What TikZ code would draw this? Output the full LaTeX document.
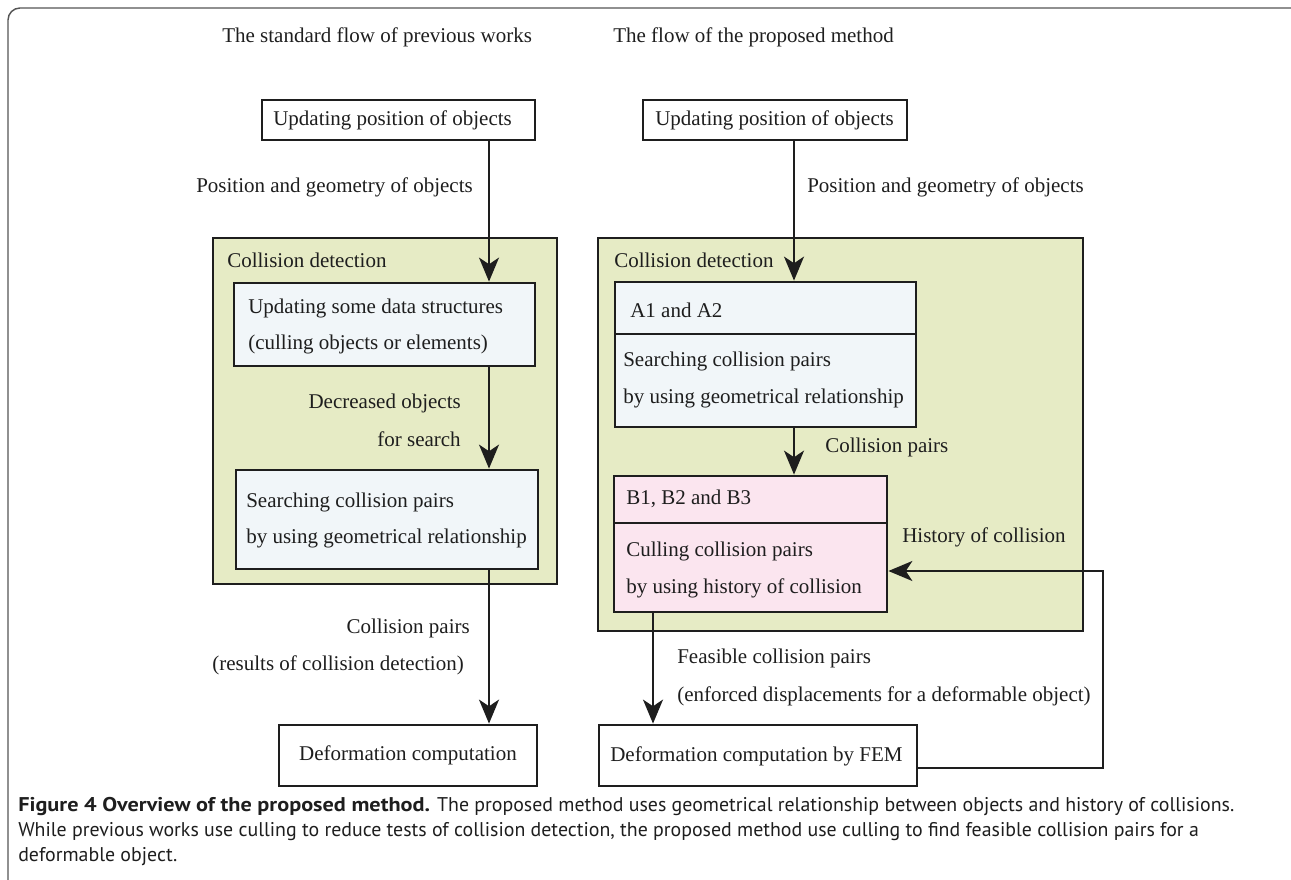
\documentclass[tikz,border=0pt]{standalone}
\usepackage{fontspec}
\setmainfont{Liberation Serif}
\newfontfamily\capfont{PT Sans}[BoldFeatures={FakeStretch=1.12}]
\usetikzlibrary{arrows.meta,fit}
\definecolor{cdgreen}{HTML}{E6EBC5}
\definecolor{cdblue}{HTML}{F1F6F9}
\definecolor{cdpink}{HTML}{FBE5EF}
\definecolor{ink}{HTML}{1E1E1E}
\definecolor{framegray}{HTML}{555555}
\tikzset{
  txt/.style={font=\fontsize{15.75pt}{19pt}\selectfont, text=ink, inner sep=0pt},
  ltxt/.style={txt, anchor=west},
  rtxt/.style={txt, anchor=east},
  boxfit/.style={inner sep=0pt, draw=ink, line width=2.1pt},
  greenbox/.style={boxfit, fill=cdgreen, line width=1.9pt},
  bluebox/.style={boxfit, fill=cdblue},
  pinkbox/.style={boxfit, fill=cdpink},
  plainbox/.style={boxfit, fill=white},
  arr/.style={draw=ink, line width=1.6pt, -{Stealth[length=18pt,width=15pt,inset=5pt]}},
  captxt/.style={font=\capfont\fontsize{14.9pt}{18pt}\selectfont, text=ink, inner sep=0pt, anchor=west}
}
\begin{document}
\begin{tikzpicture}[x=0.75pt,y=-0.75pt]
\useasboundingbox (0,0) rectangle (1291,880);
% outer frame
\draw[framegray, line width=1.1pt, rounded corners=9pt] (8,880) -- (8,8) -- (1291,8);

% titles
\node[ltxt] (t1) at (222,37) {The standard flow of previous works};
\node[ltxt] (t2) at (613,37) {The flow of the proposed method};

% ---------------- left column ----------------
\node[greenbox, fit={(213,238)(557,584)}] (g1) {};
\node[plainbox, fit={(262,100)(535,140)}] (u1) {};
\node[ltxt] (u1t) at (273,120) {Updating position of objects};
\node[ltxt] (g1t) at (227,260) {Collision detection};
\node[bluebox, fit={(234,283)(535,366)}] (b1) {};
\node[ltxt] (b1a) at (248,308) {Updating some data structures};
\node[ltxt] (b1b) at (248,344) {(culling objects or elements)};
\node[bluebox, fit={(236,470)(538,569)}] (b2) {};
\node[ltxt] (b2a) at (246,502) {Searching collision pairs};
\node[ltxt] (b2b) at (246,538) {by using geometrical relationship};
\node[plainbox, fit={(279,725)(537,786)}] (d1) {};
\node[txt] (d1t) at (d1.center) {Deformation computation};

\node[rtxt] (l1) at (473,187) {Position and geometry of objects};
\node[rtxt] (l2) at (461,403) {Decreased objects};
\node[rtxt] (l3) at (461,439) {for search};
\node[rtxt] (l4) at (470,628) {Collision pairs};
\node[rtxt] (l5) at (464,665) {(results of collision detection)};

\coordinate (lx) at (489,0);
\draw[arr] (u1.south -| lx) -- (b1.north -| lx);
\draw[arr] (b1.south -| lx) -- (b2.north -| lx);
\draw[arr] (b2.south -| lx) -- (d1.north -| lx);

% ---------------- right column ----------------
\node[greenbox, fit={(598,238)(1083,631)}] (g2) {};
\node[plainbox, fit={(643,100)(907,140)}] (u2) {};
\node[ltxt] (u2t) at (655,120) {Updating position of objects};
\node[ltxt] (g2t) at (614,260) {Collision detection};

\node[bluebox, fit={(615,282)(916,427)}] (ba) {};
\coordinate (adl) at (615,334);
\coordinate (adr) at (916,334);
\draw[ink, line width=2.1pt] (adl) -- (adr);
\node[ltxt] (bat) at (630,310) {A1 and A2};
\node[ltxt] (baa) at (623,361) {Searching collision pairs};
\node[ltxt] (bab) at (623,398) {by using geometrical relationship};

\node[pinkbox, fit={(614,476)(887,612)}] (bb) {};
\coordinate (bdl) at (614,523);
\coordinate (bdr) at (887,523);
\draw[ink, line width=2.1pt] (bdl) -- (bdr);
\node[ltxt] (bbt) at (626,499) {B1, B2 and B3};
\node[ltxt] (bba) at (626,551) {Culling collision pairs};
\node[ltxt] (bbb) at (626,588) {by using history of collision};

\node[plainbox, fit={(599,725)(917,786)}] (d2) {};
\node[ltxt] (d2t) at (610,756) {Deformation computation by FEM};

\node[ltxt] (r1) at (807,187) {Position and geometry of objects};
\node[ltxt] (r2) at (825,447) {Collision pairs};
\node[ltxt] (r3) at (902,537) {History of collision};
\node[ltxt] (r4) at (677,658) {Feasible collision pairs};
\node[ltxt] (r5) at (677,696) {(enforced displacements for a deformable object)};

\coordinate (rx) at (794,0);
\coordinate (fx) at (653,0);
\draw[arr] (u2.south -| rx) -- (ba.north -| rx);
\draw[arr] (ba.south -| rx) -- (bb.north -| rx);
\draw[arr] (bb.south -| fx) -- (d2.north -| fx);
\coordinate (fb1) at (1103,768);
\coordinate (fb2) at (1103,571);
\draw[arr] (d2.east |- fb1) -- (fb1) -- (fb2) -- (bb.east |- fb2);

% caption
\node[captxt] (c1) at (18,807) {\textbf{Figure 4 Overview of the proposed method.} The proposed method uses geometrical relationship between objects and history of collisions.};
\node[captxt] (c2) at (18,832) {While previous works use culling to reduce tests of collision detection, the proposed method use culling to find feasible collision pairs for a};
\node[captxt] (c3) at (18,857) {deformable object.};
\end{tikzpicture}
\end{document}
